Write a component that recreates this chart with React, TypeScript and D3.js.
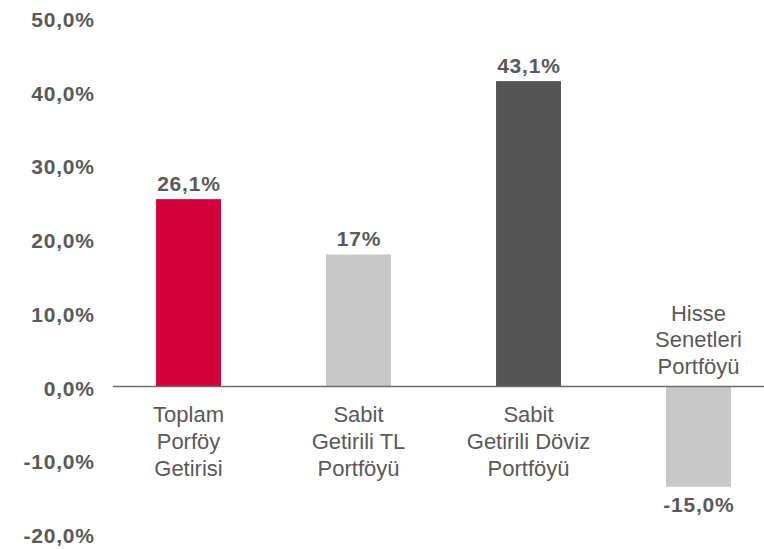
import React from "react";
import * as d3 from "d3";

const categories: string[][] = [
  ["Toplam", "Porföy", "Getirisi"],
  ["Sabit", "Getirili TL", "Portföyü"],
  ["Sabit", "Getirili Döviz", "Portföyü"],
  ["Hisse", "Senetleri", "Portföyü"],
];
const keys = ["toplam", "tl", "doviz", "hisse"];
// bar heights as drawn in the picture (in %)
const values = [25.4, 17.9, 41.4, -13.6];
// printed data labels
const valueLabels = ["26,1%", "17%", "43,1%", "-15,0%"];
const barColors = ["#D5003A", "#C8C8C8", "#555555", "#C8C8C8"];
const ticks = [50, 40, 30, 20, 10, 0, -10, -20];
const tickLabels = ["50,0%", "40,0%", "30,0%", "20,0%", "10,0%", "0,0%", "-10,0%", "-20,0%"];

const W = 764;
const H = 549;
const TEXT = "#595959";
const FONT = "'Liberation Sans', Arial, sans-serif";
const BOLD = "'Liberation Sans', Arial, sans-serif";
const BOLD_SIZE = 21;
const LS = 0.8;

export default function App() {
  const x = d3.scaleBand<string>().domain(keys).range([103.5, 783.5]).paddingInner(0.618).paddingOuter(0.309);
  const y = d3.scaleLinear().domain([-20, 50]).range([386.5 + 20 * 7.376, 386.5 - 50 * 7.376]);
  const bw = x.bandwidth();
  const lineH = 26.6;

  return (
    <svg width={W} height={H} style={{ position: "absolute", left: 0, top: 0, background: "#fff" }}>
      {/* y tick labels */}
      {ticks.map((t, i) => (
        <text
          key={t}
          x={94 + LS}
          y={y(t) + 1.5}
          dy="0.36em"
          textAnchor="end"
          fontFamily={BOLD}
          fontWeight="bold"
          fontSize={BOLD_SIZE}
          letterSpacing={LS}
          fill={TEXT}
        >
          {tickLabels[i]}
        </text>
      ))}
      {/* bars */}
      {keys.map((k, i) => {
        const v = values[i];
        const x0 = x(k)!;
        const top = v >= 0 ? y(v) : y(0);
        const h = Math.abs(y(v) - y(0));
        return <rect key={k} x={x0} y={top} width={bw} height={h} fill={barColors[i]} />;
      })}
      {/* zero axis */}
      <line x1={113} x2={764} y1={y(0)} y2={y(0)} stroke="#6b6b6b" strokeWidth={1.6} />
      {/* value labels */}
      {keys.map((k, i) => {
        const v = values[i];
        const cx = x(k)! + bw / 2 + LS / 2;
        const ty = v >= 0 ? y(v) - 8.5 : y(v) + 25.5;
        return (
          <text
            key={k}
            x={cx}
            y={ty}
            textAnchor="middle"
            fontFamily={BOLD}
            fontWeight="bold"
            fontSize={BOLD_SIZE}
            letterSpacing={LS}
            fill={TEXT}
          >
            {valueLabels[i]}
          </text>
        );
      })}
      {/* category labels */}
      {keys.map((k, i) => {
        const v = values[i];
        const cx = x(k)! + bw / 2;
        const lines = categories[i];
        const startY = v >= 0 ? 422.3 : y(0) - 12.5 - (lines.length - 1) * lineH;
        return (
          <text key={k} textAnchor="middle" fontFamily={FONT} fontSize={22} fill={TEXT}>
            {lines.map((l, j) => (
              <tspan key={j} x={cx} y={startY + j * lineH}>
                {l}
              </tspan>
            ))}
          </text>
        );
      })}
    </svg>
  );
}
